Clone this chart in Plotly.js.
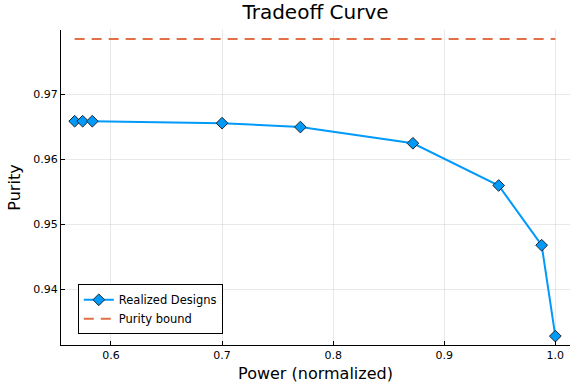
<!DOCTYPE html>
<html>
<head>
<meta charset="utf-8">
<script src="https://cdn.plot.ly/plotly-3.0.1.min.js"></script>
<style>
  html, body { margin: 0; padding: 0; background: #fff; }
  #graph { width: 581px; height: 388px; }
</style>
</head>
<body>
<div id="graph"></div>
<script>
// Realized designs
const powerValues = [0.5673, 0.5745, 0.5832, 0.700, 0.7705, 0.8718, 0.949, 0.9877, 1.0];
const purityValues = [0.9659, 0.9659, 0.9659, 0.9656, 0.9650, 0.9625, 0.9560, 0.9468, 0.9328];

// Purity bound (flat line)
const boundX = [0.5673, 1.0];
const boundY = [0.97857, 0.97857];

const xTicks = [0.6, 0.7, 0.8, 0.9, 1.0];
const xTickText = ['0.6', '0.7', '0.8', '0.9', '1.0'];
const yTicks = [0.94, 0.95, 0.96, 0.97];
const yTickText = ['0.94', '0.95', '0.96', '0.97'];

function plot() {
    const graph = document.getElementById('graph');

    var realized = {
        x: powerValues,
        y: purityValues,
        type: 'scatter',
        mode: 'lines+markers',
        name: 'Realized Designs',
        line: { color: '#009AFA', width: 2 },
        marker: { symbol: 'diamond', size: 9, color: '#009AFA', line: { color: '#222', width: 1 } }
    };

    var bound = {
        x: boundX,
        y: boundY,
        type: 'scatter',
        mode: 'lines',
        name: 'Purity bound',
        line: { color: '#E26F46', width: 2, dash: '10px,7px' }
    };

    var axisCommon = {
        showline: true,
        linecolor: '#000',
        linewidth: 1,
        mirror: false,
        zeroline: false,
        showgrid: true,
        gridcolor: 'rgba(0,0,0,0.09)',
        gridwidth: 1,
        ticks: 'inside',
        ticklen: 4,
        tickcolor: '#000',
        tickfont: { size: 11, color: '#000' }
    };

    var layout = {
        width: 581,
        height: 388,
        margin: { l: 61, r: 11, t: 30, b: 43 },
        paper_bgcolor: '#fff',
        plot_bgcolor: '#fff',
        font: { family: 'DejaVu Sans, sans-serif', color: '#000' },
        title: { text: 'Tradeoff Curve', font: { size: 20 }, xref: 'paper', x: 0.5, xanchor: 'center', y: 0.968, yanchor: 'middle' },
        xaxis: Object.assign({}, axisCommon, {
            title: { text: 'Power (normalized)', font: { size: 16 }, standoff: 6 },
            range: [0.555, 1.0132],
            tickvals: xTicks,
            ticktext: xTickText
        }),
        yaxis: Object.assign({}, axisCommon, {
            title: { text: 'Purity', font: { size: 16 }, standoff: 8 },
            range: [0.93143, 0.97995],
            tickvals: yTicks,
            ticktext: yTickText
        }),
        showlegend: true,
        legend: {
            x: 0.033, y: 0.034,
            xanchor: 'left', yanchor: 'bottom',
            bgcolor: '#fff',
            bordercolor: '#000',
            borderwidth: 1,
            font: { size: 11.5 },
            tracegroupgap: 0
        }
    };

    Plotly.newPlot(graph, [realized, bound], layout, { displayModeBar: false, staticPlot: true });
}

plot();
</script>
</body>
</html>
